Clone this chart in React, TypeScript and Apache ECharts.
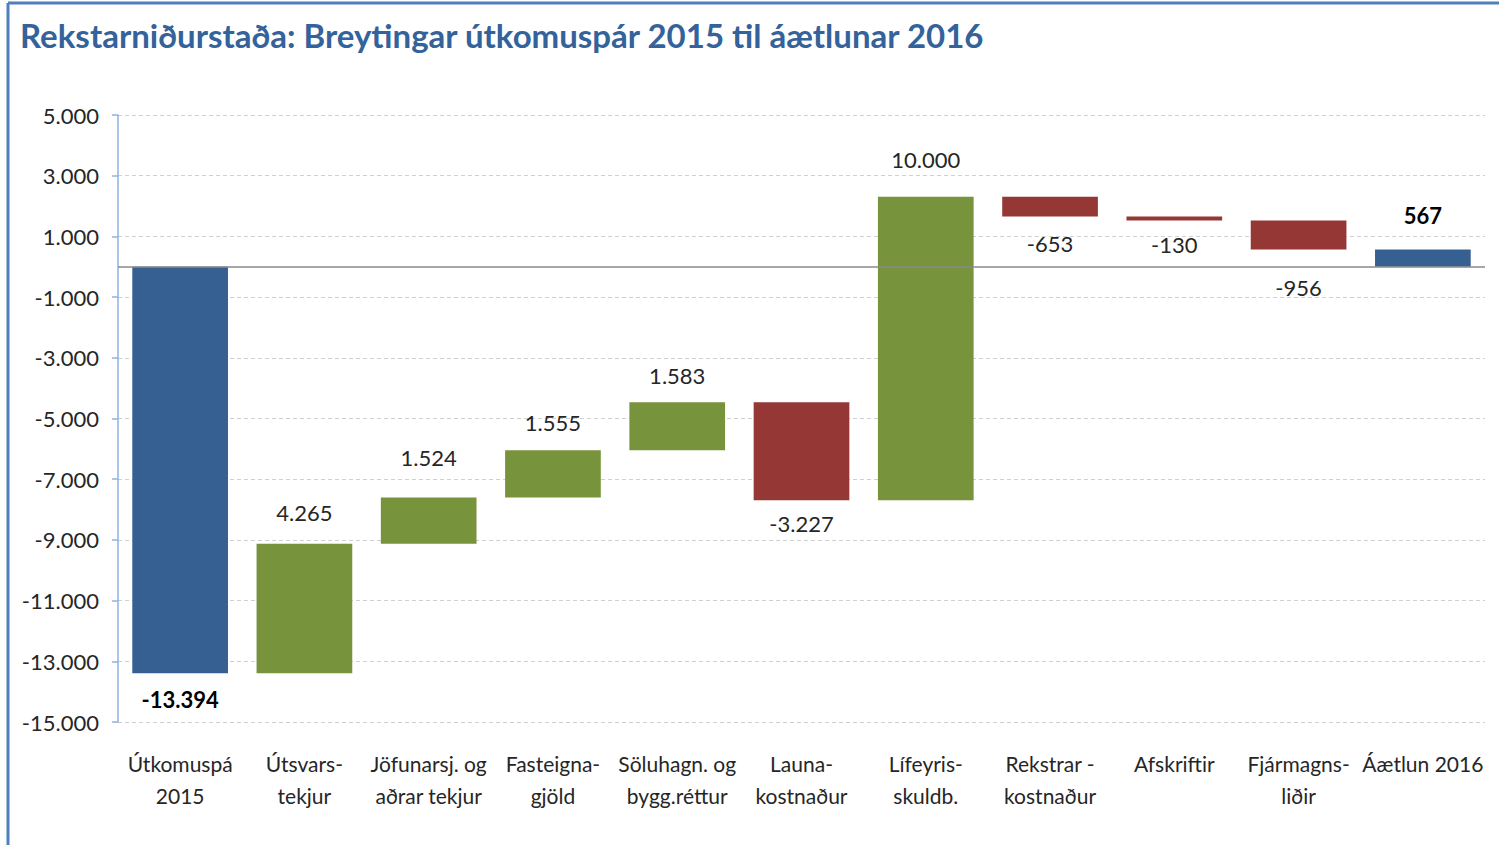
import React, { useEffect, useRef } from "react";
import * as echarts from "echarts";

const categories = [
  "Útkomuspá\n2015",
  "Útsvars-\ntekjur",
  "Jöfunarsj. og\naðrar tekjur",
  "Fasteigna-\ngjöld",
  "Söluhagn. og\nbygg.réttur",
  "Launa-\nkostnaður",
  "Lífeyris-\nskuldb.",
  "Rekstrar -\nkostnaður",
  "Afskriftir",
  "Fjármagns-\nliðir",
  "Áætlun 2016",
];
// starting total, then changes; final total
const startValue = -13394;
const changes = [4265, 1524, 1555, 1583, -3227, 10000, -653, -130, -956];
const endValue = 567;
const yTicks = { min: -15000, max: 5000, interval: 2000 };

// style: distance (px) of each value label's centre from its bar edge
const labelGap = [26, 31, 40, 28, 27, 23, 37, 27, 24, 38, 34];

const BLUE = "#376092";
const GREEN = "#77933c";
const RED = "#953735";
const FONT = "Lato, 'Open Sans', sans-serif";

function fmt(v: number): string {
  const s = Math.abs(Math.round(v)).toString().replace(/\B(?=(\d{3})+(?!\d))/g, ".");
  return (v < 0 ? "-" : "") + s;
}

export default function App() {
  const ref = useRef<HTMLDivElement>(null);
  useEffect(() => {
    if (!ref.current) return;
    const chart = echarts.init(ref.current, undefined, { renderer: "svg" });

    // build [index, from, to, value, colorKind, bold]
    const rows: any[] = [];
    rows.push([0, 0, startValue, startValue, 0, 1]);
    let cum = startValue;
    changes.forEach((d, i) => {
      rows.push([i + 1, cum, cum + d, d, d >= 0 ? 1 : 2, 0]);
      cum += d;
    });
    rows.push([categories.length - 1, 0, endValue, endValue, 0, 1]);

    const colors = [BLUE, GREEN, RED];

    const option: any = {
      animation: false,
      backgroundColor: "#ffffff",
      grid: { left: 118, right: 14, top: 115, bottom: 123, containLabel: false },
      graphic: [
        {
          type: "line",
          shape: { x1: 8, y1: 3, x2: 1499, y2: 3 },
          style: { stroke: "#4f7fbc", lineWidth: 3 },
        },
        {
          type: "line",
          shape: { x1: 8, y1: 3, x2: 8, y2: 845 },
          style: { stroke: "#4f7fbc", lineWidth: 3 },
        },
        {
          type: "text",
          left: 20,
          top: 18,
          style: {
            text: "Rekstarniðurstaða: Breytingar útkomuspár 2015 til áætlunar 2016",
            fill: "#34629a",
            font: `bold 33px ${FONT}`,
          },
        },
      ],
      xAxis: {
        type: "category",
        data: categories,
        axisLine: { show: false },
        axisTick: { show: false },
        axisLabel: {
          interval: 0,
          color: "#262626",
          fontSize: 21,
          fontFamily: FONT,
          lineHeight: 32,
          margin: 25,
        },
        splitLine: { show: false },
      },
      yAxis: {
        type: "value",
        min: yTicks.min,
        max: yTicks.max,
        interval: yTicks.interval,
        axisLine: { show: true, lineStyle: { color: "#8db3e2", width: 1.5 } },
        axisTick: { show: true, length: 6, lineStyle: { color: "#8db3e2", width: 1.5 } },
        axisLabel: {
          color: "#262626",
          fontSize: 22,
          fontFamily: FONT,
          margin: 19,
          formatter: (v: number) => fmt(v),
        },
        splitLine: { show: true, lineStyle: { color: "#d0d0d0", type: [4, 3], width: 1 } },
      },
      series: [
        {
          type: "custom",
          data: rows,
          encode: { x: 0, y: [1, 2] },
          renderItem: (params: any, api: any) => {
            const idx = api.value(0);
            const from = api.value(1);
            const to = api.value(2);
            const val = api.value(3);
            const kind = api.value(4);
            const bold = api.value(5);
            const p1 = api.coord([idx, from]);
            const p2 = api.coord([idx, to]);
            const w = api.size([1, 0])[0] * 0.77;
            const top = Math.min(p1[1], p2[1]);
            const bottom = Math.max(p1[1], p2[1]);
            const up = val >= 0;
            const gap = labelGap[params.dataIndex] ?? 28;
            return {
              type: "group",
              children: [
                {
                  type: "rect",
                  shape: { x: p1[0] - w / 2, y: top, width: w, height: Math.max(bottom - top, 1) },
                  style: { fill: colors[kind] },
                },
                {
                  type: "text",
                  x: p1[0],
                  y: up ? top - gap : bottom + gap,
                  style: {
                    text: fmt(val),
                    align: "center",
                    verticalAlign: "middle",
                    fill: bold ? "#000000" : "#262626",
                    font: `${bold ? "bold " : ""}22px ${FONT}`,
                  },
                },
              ],
            };
          },
          markLine: {
            silent: true,
            symbol: "none",
            label: { show: false },
            lineStyle: { color: "#8a8a8a", type: "solid", width: 1.5 },
            data: [{ yAxis: 0 }],
          },
        },
      ],
    };
    chart.setOption(option);
    return () => chart.dispose();
  }, []);
  return (
    <div
      ref={ref}
      style={{ position: "fixed", left: 0, top: 0, width: 1499, height: 845, background: "#fff" }}
    />
  );
}
